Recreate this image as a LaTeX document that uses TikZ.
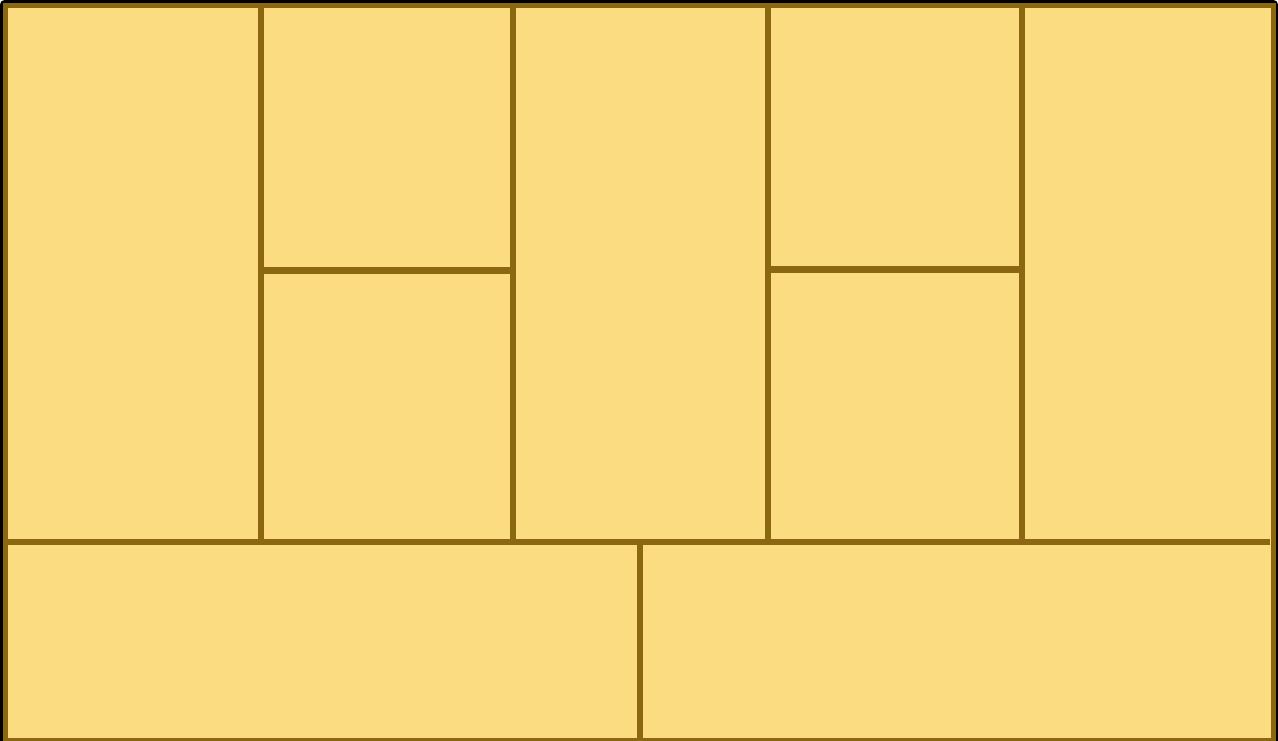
\documentclass[tikz,border=0pt]{standalone}
\usepackage{xcolor}
\usepackage{tikz}
\definecolor{roomfill}{HTML}{FCDC80}
\definecolor{wallbrown}{HTML}{8A6710}
\tikzset{
  outer/.style  = {draw=black, line width=3.5pt, rounded corners=4pt},
  shell/.style  = {draw=wallbrown, fill=roomfill, line width=5pt},
  wall/.style   = {draw=wallbrown, line width=6.5pt},
}
\begin{document}
\begin{tikzpicture}[x=1pt, y=-1pt]
  \useasboundingbox (0,0) rectangle (1278,740);
  % frame and floor
  \draw[outer] (1.5,1.5) rectangle (1276.5,760);
  \draw[shell] (5.5,5.5) rectangle (1273.5,740.5);
  % upper row of cells
  \foreach \xx in {261,513,768,1022}
    \draw[wall] (\xx,5) -- (\xx,542);
  \draw[wall] (261,270.5) -- (513,270.5);
  \draw[wall] (768,269.5) -- (1022,269.5);
  % lower row
  \draw[wall] (5,542) -- (1270,542);
  \draw[wall] (640,542) -- (640,740);
\end{tikzpicture}
\end{document}
